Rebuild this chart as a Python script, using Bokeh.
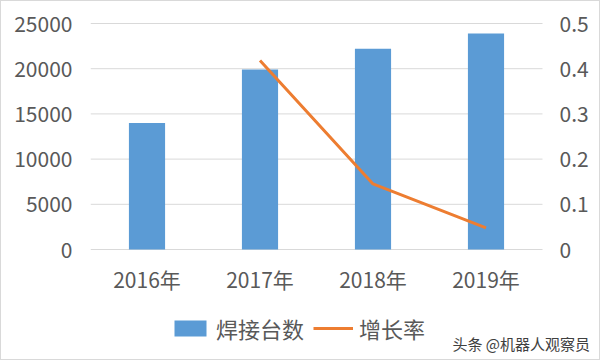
from bokeh.plotting import figure
from bokeh.models import (ColumnDataSource, Range1d, LinearAxis, FixedTicker,
                          Legend, LegendItem, Label)
from bokeh.embed import file_html
from bokeh.resources import INLINE

years = ["2016年", "2017年", "2018年", "2019年"]
units = [14000, 19900, 22200, 23900]
growth = [float("nan"), 0.418, 0.145, 0.048]
left_ticks = [0, 5000, 10000, 15000, 20000, 25000]
right_ticks = [0, 0.1, 0.2, 0.3, 0.4, 0.5]

FONT = "Noto Sans CJK SC"
TXT = "#595959"

# layout geometry (pixels): category slot 113 px, plot frame 511 px wide,
# value 0 sits 112 px above the frame bottom, top tick 226 px above 0 and 22 px below frame top
N = len(years)
X_END = 511 / 113
BELOW = 112 / 226
ABOVE = 1 + 22 / 226

xpos = [i + 0.5 for i in range(N)]
src = ColumnDataSource(dict(x=xpos, year=years, units=units, growth=growth))

p = figure(x_range=Range1d(0, X_END),
           y_range=Range1d(-25000 * BELOW, 25000 * ABOVE),
           width=600, height=360, output_backend="svg", toolbar_location=None,
           min_border_left=89, min_border_right=0, min_border_top=0, min_border_bottom=0,
           styles={"border": "1px solid #d9d9d9"})
p.outline_line_color = None
p.extra_y_ranges = {"r": Range1d(-0.5 * BELOW, 0.5 * ABOVE)}

# horizontal gridlines across the category area only
p.segment(x0=[0] * len(left_ticks), x1=[N] * len(left_ticks), y0=left_ticks, y1=left_ticks,
          line_color="#D9D9D9", line_width=1)

bars = p.vbar(x="x", top="units", width=0.32, source=src,
              fill_color="#5B9BD5", line_color=None)
line = p.line(x="x", y="growth", source=src, y_range_name="r",
              line_color="#ED7D31", line_width=3)

p.xgrid.grid_line_color = None
p.ygrid.grid_line_color = None
p.yaxis[0].ticker = FixedTicker(ticks=left_ticks)
xax = p.xaxis[0]
xax.fixed_location = 0
xax.ticker = FixedTicker(ticks=xpos)
xax.major_label_overrides = {x: y for x, y in zip(xpos, years)}

rax = LinearAxis(y_range_name="r", ticker=FixedTicker(ticks=right_ticks),
                 major_label_overrides={0: "0"}, fixed_location=N)
p.add_layout(rax, "right")

for ax in [p.yaxis[0], rax, xax]:
    ax.axis_line_color = None
    ax.major_tick_line_color = None
    ax.minor_tick_line_color = None
    ax.major_tick_out = 0
    ax.major_tick_in = 0
    ax.minor_tick_out = 0
    ax.major_label_text_font = FONT
    ax.major_label_text_font_size = "21px"
    ax.major_label_text_color = TXT
p.yaxis[0].major_label_standoff = 18
rax.major_label_standoff = 17
xax.major_label_standoff = 14

legend = Legend(items=[LegendItem(label="焊接台数", renderers=[bars]),
                       LegendItem(label="增长率", renderers=[line])],
                orientation="horizontal", location=(80, 17),
                glyph_width=40, glyph_height=20, label_standoff=6, spacing=9,
                padding=0, margin=0, border_line_color=None, background_fill_alpha=0,
                label_text_font=FONT, label_text_font_size="22px", label_text_color=TXT)
p.add_layout(legend, "center")

wm = Label(x=362, y=18, x_units="screen", y_units="screen", text="头条 @机器人观察员",
           text_font=FONT, text_font_size="15px", text_color="#404040",
           text_baseline="middle")
p.add_layout(wm)

open("out.html", "w").write(file_html(p, INLINE))
